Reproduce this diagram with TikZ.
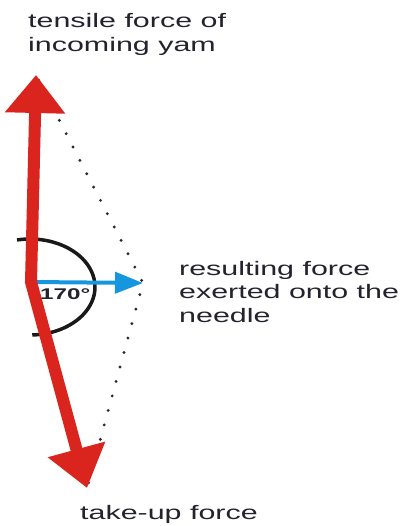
\documentclass[tikz,border=0pt]{standalone}
\usepackage{fontspec}
\setmainfont{Liberation Sans}
\usetikzlibrary{arrows.meta}
\definecolor{forcered}{RGB}{218,36,30}
\definecolor{resblue}{RGB}{22,150,222}
\definecolor{txt}{RGB}{35,35,45}
\definecolor{dotc}{RGB}{40,40,50}
\newcommand{\sx}[1]{\scalebox{1.56}[1]{#1}}
\tikzset{
  lbl/.style={anchor=base west, inner sep=0pt, text=txt, font=\fontsize{19.5}{23}\selectfont},
  anglbl/.style={anchor=base west, inner sep=0pt, text=txt, font=\fontsize{15.5}{18}\selectfont\bfseries},
  redforce/.style={draw=forcered, line width=12pt, line join=miter,
    {Triangle[length=38pt,width=58pt]}-{Triangle[length=40pt,width=57pt]}},
  bluforce/.style={draw=resblue, line width=4pt, -{Triangle[length=28pt,width=21pt]}},
  dotline/.style={draw=dotc, line width=3.2pt, line cap=round, dash pattern=on 0pt off 15pt},
  anglearc/.style={draw=black!90, line width=3.5pt}
}
\begin{document}
\begin{tikzpicture}[x=1pt,y=-1pt]
\useasboundingbox (0,0) rectangle (403,526);
\coordinate (T1) at (36,75);
\coordinate (V) at (31,282);
\coordinate (T2) at (87,488);
\coordinate (R) at (143,283);
% dotted parallelogram sides
\draw[dotline, shorten <=6pt] (T1) -- (R) -- (T2);
% angle arc
\draw[anglearc] plot[domain=-101.5:88, samples=80, smooth] ({30+65*cos(\x)},{287+48*sin(\x)});
% resulting force
\draw[bluforce] (V) -- (R);
% incoming and take-up forces
\draw[redforce] (T1) -- (V) -- (T2);
% labels
\node[lbl] (l1a) at (28,28) {\sx{tensile force of}};
\node[lbl] (l1b) at (28,52) {\sx{incoming yam}};
\node[lbl] (l2a) at (179,275) {\sx{resulting force}};
\node[lbl] (l2b) at (179,298) {\sx{exerted onto the}};
\node[lbl] (l2c) at (179,322) {\sx{needle}};
\node[lbl] (l3) at (80,519) {\sx{take-up force}};
\node[anglbl] (ang) at (40,299) {\sx{170°}};
\end{tikzpicture}
\end{document}
